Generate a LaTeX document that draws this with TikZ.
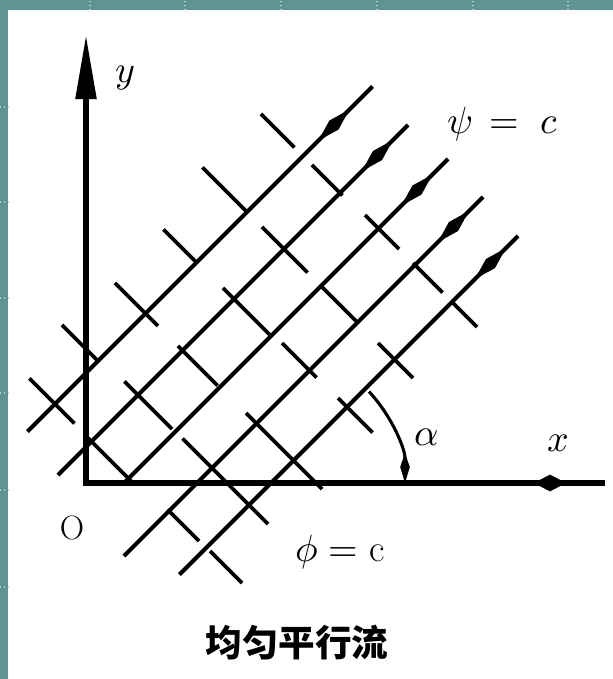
\documentclass[tikz,border=0pt]{standalone}
\usepackage{fontspec}
\usepackage{unicode-math}
\usepackage{tikz}
\usetikzlibrary{arrows.meta}
\newfontfamily\cjkfont{Noto Sans CJK SC}
\definecolor{slideteal}{RGB}{94,148,148}
\tikzset{
    flowlabel/.style={font=\fontsize{27}{31}\selectfont, inner sep=0pt},
    every node/.style={font=\fontsize{24}{28}\selectfont}
}

\begin{document}
\begin{tikzpicture}[
    x=0.025cm,y=0.025cm,
    myaxis/.style={line width=3.8pt, line join=miter},
    mystream/.style={line width=2.9pt},
    mypot/.style={line width=2.6pt},
    mytip/.style={line width=2.9pt, -{Kite[length=1.1cm, width=0.32cm, inset=0.55cm]}},
    myarc/.style={line width=2.2pt, -{Kite[length=0.75cm, width=0.24cm, inset=0.35cm]}},
    mygrid/.style={dotted, line width=0.8pt, white!60!slideteal}
]
\useasboundingbox (-86,-196) rectangle (527,483);

% slide frame
\fill[slideteal] (-86,-196) rectangle (527,483);
\fill[white] (-78,-196) rectangle (527,473);
\foreach \gx in {4,99,195,291,387,482}
    \draw[mygrid] (\gx,473) -- (\gx,483);
\foreach \gy in {376,281,185,90,-7,-104}
    \draw[mygrid] (-86,\gy) -- (-78,\gy);

% grid in (phi,psi) coordinates
\begin{scope}[cm={0.5,0.5,-0.5,0.5,(0,0)}]
    % equipotential lines phi = c
    \foreach \d/\a/\b in {48/161/71, 47/47/-46, 55/-108/-171, 56/-192/-256,
                          134/182/110, 140/63/-32, 141/-52/-223,
                          229/171/85, 229/45/-34, 230/-90/-242,
                          331/176/109, 332/58/-35, 336/-56/-125, 337/-167/-236,
                          432/199/112, 432/80/-11, 432/-38/-110, 432/-152/-222,
                          544/194/127, 544/92/31, 547/-11/-79, 547/-107/-166, 547/-187/-235}
        \draw[mypot] (\d,\a) -- (\d,\b);
    % streamlines psi = c
    \foreach \c/\s/\e/\t in {110/-7/683/637, 36/-20/680/650, -38/38/686/655,
                             -111/-35/683/655, -185/2/679/655} {
        \draw[mystream] (\s,\c) -- (\e,\c);
        \draw[mytip] ({\t-40},\c) -- (\t,\c);
    }
\end{scope}

% axes
\coordinate (O) at (0,0);
\coordinate (ytip) at (0,448);
\coordinate (xend) at (519,0);
\draw[myaxis, {Triangle[length=1.6cm, width=0.5cm]}-] (ytip) -- (O) -- (xend);
\draw[myaxis, -{Kite[length=0.8cm, width=0.42cm, inset=0.4cm]}] (440,0) -- (480,0);

% angle alpha
\coordinate (C) at (185,0);
\draw[myarc] ([shift={(43:134)}]C) arc[start angle=43, end angle=0, radius=134];

% labels
\node[flowlabel] (ylab) at (39,405) {$y$};
\node[flowlabel] (xlab) at (472,40) {$x$};
\node (olab) at (-14,-45) {O};
\node[flowlabel] (psilab) at (417,359) {$\psi\,=\;c$};
\node[flowlabel] (philab) at (254,-69) {$\mupphi=\mathrm{c}$};
\node[flowlabel] (alab) at (341,46) {$\alpha$};
\node[font=\cjkfont\bfseries\fontsize{26}{30}\selectfont] (title) at (211,-160) {均匀平行流};

\end{tikzpicture}
\end{document}
